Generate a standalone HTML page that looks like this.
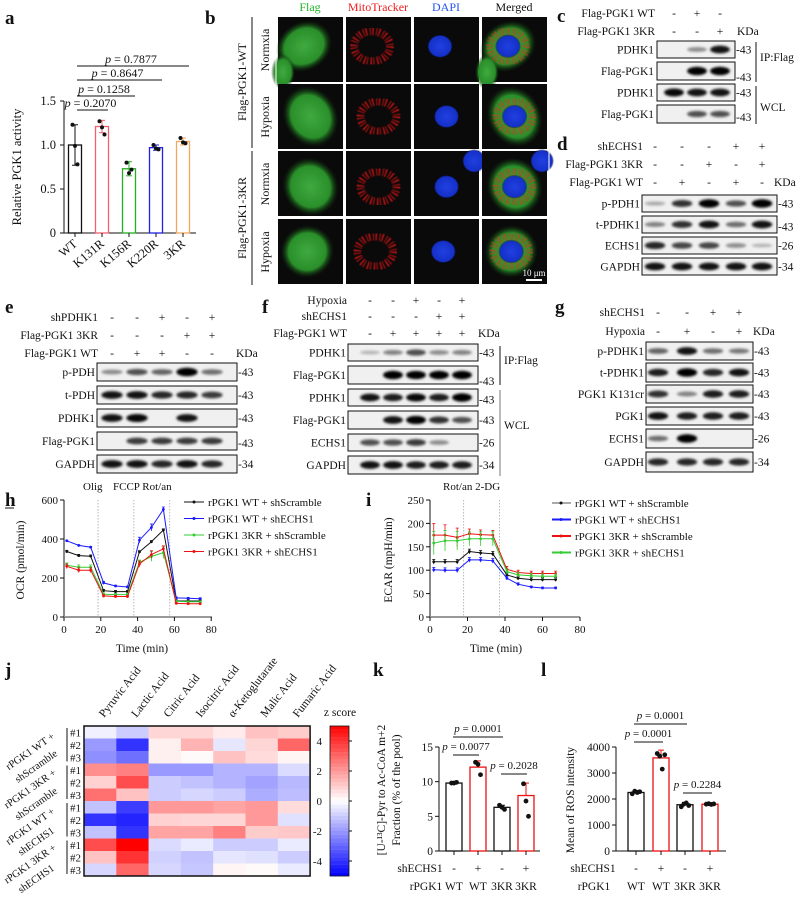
<!DOCTYPE html>
<html><head><meta charset="utf-8">
<style>
html,body{margin:0;padding:0;background:#fff;}
svg{display:block;font-family:"Liberation Serif",serif;}
</style></head>
<body>
<svg id="fig" width="798" height="902" viewBox="0 0 798 902">
<defs>
<filter id="blur1" x="-20%" y="-50%" width="140%" height="200%"><feGaussianBlur stdDeviation="1.2"/></filter>
<filter id="blur05"><feGaussianBlur stdDeviation="0.6"/></filter>
<radialGradient id="gCell" cx="50%" cy="50%" r="50%"><stop offset="0" stop-color="#3faa3f"/><stop offset="0.7" stop-color="#2a8f2a"/><stop offset="1" stop-color="#0c300c" stop-opacity="0"/></radialGradient>
<radialGradient id="bNuc" cx="50%" cy="50%" r="50%"><stop offset="0" stop-color="#2040e0"/><stop offset="0.85" stop-color="#1530c8"/><stop offset="1" stop-color="#000" stop-opacity="0"/></radialGradient>
</defs>
</svg>
<script>
// ---------- DATA ----------
const aCats=['WT','K131R','K156R','K220R','3KR'];
const aMeans=[1.0,1.21,0.73,0.97,1.04];
const aSD=[0.23,0.07,0.08,0.03,0.04];
const aPts=[[1.23,0.99,0.78],[1.27,1.2,1.12],[0.8,0.68,0.72],[1.0,0.96,0.95],[1.08,1.03,1.02]];
const aTicks=[0,0.5,1.0,1.5];
const aTickLabels=['0','0.5','1.0','1.5'];
const aPvals=['p = 0.2070','p = 0.1258','p = 0.8647','p = 0.7877'];

const hTimes=[1.5,8,14.5,21.5,28,34.5,41,47.5,54,61,67.5,74];
const hBlack=[336,315,312,135,130,130,334,386,446,82,82,82];
const hBlue=[391,367,358,175,159,154,394,459,552,98,96,94];
const hGreen=[265,255,255,117,115,115,280,310,330,80,78,78];
const hRed=[260,240,240,108,105,105,272,320,350,70,68,68];
const hTicks=[0,200,400,600];
const xTicks=[0,20,40,60,80];

const iTimes=[2,8,14.5,21,27,33.5,41,47,54,60,67];
const iBlack=[118,118,118,140,137,135,90,83,80,80,80];
const iBlue=[101,100,100,122,122,120,83,70,64,62,62];
const iRed=[175,175,170,178,176,175,102,95,93,93,93];
const iGreen=[158,163,163,167,167,167,97,90,88,87,87];
const iTicks=[0,50,100,150,200,250];

const jCols=['Pyruvic Acid','Lactic Acid','Citric Acid','Isocitric Acid','α-Ketoglutarate','Malic Acid','Fumaric Acid'];
const jRows=[
[-0.3,-1,0.8,0.8,0.4,1.2,1.0],
[-2,-4,0.3,1.5,-0.5,0.8,3],
[-2.2,-2.8,0.3,0.1,1.2,0.7,0.2],
[2.2,2.5,-2,-2,-1.5,-1.5,-0.7],
[0.9,3.5,-1,-1.2,-1.5,-1.8,-1.4],
[2.8,1.2,-1,-0.8,-1,-1.6,-1.3],
[-1.2,-3.8,2,2,1.8,2,0.7],
[-4,-4.3,0.9,0.8,0.8,2,-0.6],
[-1.2,-4,1.8,1.8,2.5,1,1.1],
[3.5,5,-0.7,-0.4,-1,-1,-0.4],
[1.2,4,-0.9,-1.2,-0.5,-0.6,-1],
[-0.8,3,-0.8,-1.1,0.2,0.1,-0.4]];
const jTicks=[4,2,0,-2,-4];

const kMeans=[9.8,12.1,6.3,8.0];
const kPts=[[9.8,9.8,9.9],[12.8,12.5,11],[6.6,6.3,6.0],[9.7,7.2,5.0]];
const kSD=[0.1,0.9,0.3,1.8];
const kTicks=[0,5,10,15];
const lMeans=[2250,3580,1780,1800];
const lPts=[[2200,2300,2250,2280],[3750,3650,3150,3700],[1700,1800,1850,1750],[1800,1820,1790,1810]];
const lSD=[80,300,90,30];
const lTicks=[0,1000,2000,3000,4000];
const shSigns=['-','+','-','+'];
const pgkLab=['WT','WT','3KR','3KR'];

// ---------- HELPERS ----------
const NS='http://www.w3.org/2000/svg';
const svg=document.getElementById('fig');
function mk(tag,attrs,name,parent){
  const e=document.createElementNS(NS,tag);
  for(const k in attrs) e.setAttribute(k,attrs[k]);
  
  
  (parent||svg).appendChild(e);return e;
}
function T(x,y,s,size,name,opt){
  opt=opt||{};
  const t=mk('text',{x:x,y:y,'font-size':size,'text-anchor':opt.anchor||'start',fill:opt.fill||'#111','font-weight':opt.bold?'bold':'normal','font-style':opt.italic?'italic':'normal',transform:opt.rot?`rotate(${opt.rot} ${x} ${y})`:''},name);
  if(s.startsWith('p = ')){
    const a=document.createElementNS(NS,'tspan');a.setAttribute('font-style','italic');a.textContent='p';t.appendChild(a);
    const b=document.createElementNS(NS,'tspan');b.textContent=s.slice(1);t.appendChild(b);
  } else t.textContent=s;
  return t;
}
function L(x1,y1,x2,y2,name,stroke,w,dash){
  return mk('line',{x1:x1,y1:y1,x2:x2,y2:y2,stroke:stroke||'#111','stroke-width':w||1,'stroke-dasharray':dash||''},name);
}
function panelLetter(x,y,s){T(x,y,s,19,'panel-label-'+s,{bold:true});}

// ---------- PANEL A ----------
panelLetter(5,24,'a');
const aY=v=>233-v*88, aX=i=>75+i*27, aCol=['#111','#f0606e','#20b020','#2020e8','#f0a860'];
L(64,101,64,233,'a-y-axis');L(64,233,196,233,'a-x-axis');
aTicks.forEach((v,i)=>{L(60,aY(v),64,aY(v),'a-y-tick');T(56,aY(v)+4,aTickLabels[i],12.5,'a-y-tick-label',{anchor:'end'});});
T(21,167,'Relative PGK1 activity',12.5,'a-y-axis-title',{anchor:'middle',rot:-90});
aCats.forEach((c,i)=>{
  const x=aX(i);
  mk('rect',{x:x-6.5,y:aY(aMeans[i]),width:13,height:233-aY(aMeans[i]),fill:'none',stroke:aCol[i],'stroke-width':1.3},'a-bar-'+c);
  L(x,aY(aMeans[i]-aSD[i]),x,aY(aMeans[i]+aSD[i]),'a-error-bar',aCol[i]);
  L(x-3,aY(aMeans[i]+aSD[i]),x+3,aY(aMeans[i]+aSD[i]),'a-error-cap',aCol[i]);
  L(x-3,aY(aMeans[i]-aSD[i]),x+3,aY(aMeans[i]-aSD[i]),'a-error-cap',aCol[i]);
  aPts[i].forEach((p,j)=>mk('circle',{cx:x+(j-1)*2.5,cy:aY(p),r:2,fill:'#111'},'a-point'));
  L(x,233,x,237,'a-x-tick');
  T(x+3,245,c,12.5,'a-x-label-'+c,{anchor:'end',rot:-40});
});
[[1,110],[2,96],[3,80],[4,66]].forEach((p,k)=>{
  const x2=aX(p[0]);L(aX(0)+2,p[1],x2+6,p[1],'a-significance-line');
  T((aX(0)+x2)/2+2,p[1]-3,aPvals[k],12,'a-p-value',{anchor:'middle'});
});

// ---------- PANEL B ----------
panelLetter(205,24,'b');
const bCx=[278,346,414,482], bRy=[17,84,151,219], bHead=['Flag','MitoTracker','DAPI','Merged'], bHc=['#22b22a','#ee1c1c','#2255ee','#111'];
bHead.forEach((h,i)=>T(bCx[i]+32,11,h,12,'b-column-header-'+h,{anchor:'middle',fill:bHc[i]}));
const cellPos=[[0.4,0.45,0.36,0.28],[0.5,0.5,0.33,0.36],[0.5,0.55,0.34,0.34],[0.45,0.5,0.33,0.3]];
bRy.forEach((y,r)=>{
  const cp=cellPos[r];
  bCx.forEach((x,c)=>{
    const g=mk('g',{},'b-micrograph');
    mk('rect',{x:x,y:y,width:65,height:65,fill:'#0a0a0a'},'micrograph-bg',g);
    const cx=x+65*cp[0],cy=y+65*cp[1];
    if(c===0||c===3){mk('ellipse',{cx:cx,cy:cy,rx:65*cp[2]*1.25,ry:65*cp[3]*1.35,fill:'url(#gCell)',transform:`rotate(-30 ${cx} ${cy})`},'green-cell',g);
      if(r===0)mk('ellipse',{cx:x+5,cy:y+55,rx:12,ry:18,fill:'url(#gCell)'},'green-cell-2',g);}
    if(c===1||c===3){mk('ellipse',{cx:cx,cy:cy,rx:18,ry:15,fill:'none',stroke:c===1?'#d81818':'#c04020','stroke-width':8,'stroke-dasharray':'1.5 2.5 1 1.5',opacity:0.85,filter:'url(#blur05)'},'mito-ring',g);}
    if(c===2||c===3){mk('ellipse',{cx:cx,cy:cy,rx:13,ry:12,fill:'url(#bNuc)'},'nucleus',g);
      if(r===2)mk('ellipse',{cx:x+60,cy:y+10,rx:12,ry:12,fill:'url(#bNuc)'},'nucleus-2',g);}
  });
});
mk('rect',{x:276,y:15,width:273,height:272,fill:'none',stroke:'#fff','stroke-width':1},'b-grid-border');
L(252,17,252,148,'b-group-bracket');L(252,151,252,285,'b-group-bracket');
T(246,82,'Flag-PGK1-WT',12,'b-group-label',{anchor:'middle',rot:-90});
T(246,218,'Flag-PGK1-3KR',12,'b-group-label',{anchor:'middle',rot:-90});
[['Normxia',50],['Hypoxia',117],['Normxia',184],['Hypoxia',252]].forEach(p=>T(269,p[1],p[0],12,'b-row-label',{anchor:'middle',rot:-90}));
L(526,280,542,280,'b-scale-bar','#fff',2);T(534,276,'10 μm',9,'b-scale-label',{anchor:'middle',fill:'#fff'});

// ---------- BLOT HELPER ----------
function blot(prefix,x0,x1,lanes,rows,labelX,markX){
  rows.forEach(r=>{
    const g=mk('g',{},prefix+'-blot-'+r.name);
    mk('rect',{x:x0,y:r.y,width:x1-x0,height:r.h,fill:'#f0f0f0',stroke:'#111','stroke-width':1},'blot-frame',g);
    lanes.forEach((lx,i)=>{const v=r.v[i];if(v>0.02){
      const w=(x1-x0)/lanes.length*0.38;
      mk('ellipse',{cx:lx,cy:r.y+r.h/2,rx:w,ry:1.8+v*2.5,fill:'#000',opacity:Math.min(1,0.2+v*0.85),filter:'url(#blur1)'},'band',g);}});
    T(labelX,r.y+r.h/2+4,r.name,11.5,prefix+'-row-label',{anchor:'end'});
    T(markX,r.y+r.h/2+4+(r.mo||0),'-'+r.kda,11.5,prefix+'-kda-marker');
  });
}
function header(prefix,rows,lanes,labelX,kdaX){
  rows.forEach(r=>{T(labelX,r.y,r.name,11.5,prefix+'-condition-label',{anchor:'end'});
    r.s.forEach((s,i)=>T(lanes[i],r.y,s,11.5,prefix+'-sign',{anchor:'middle'}));});
  T(kdaX,rows[rows.length-1].y,'KDa',11.5,prefix+'-kda-unit');
}

// ---------- PANEL C ----------
panelLetter(557,22,'c');
const cL=[674,697,720];
header('c',[{name:'Flag-PGK1 WT',y:17,s:['-','+','-']},{name:'Flag-PGK1 3KR',y:35,s:['-','-','+']}],cL,655,737);
blot('c',657,735,cL,[
 {name:'PDHK1',y:41,h:17,v:[0,0.25,0.85],kda:43},
 {name:'Flag-PGK1',y:62,h:18,v:[0,1,1],kda:43,mo:6},
 {name:'PDHK1',y:84,h:17,v:[0.9,0.85,0.85],kda:43},
 {name:'Flag-PGK1',y:105,h:18,v:[0,0.55,0.55],kda:43,mo:3}],654,736);
L(756,42,756,82,'c-ip-bracket');T(760,61,'IP:Flag',11.5,'c-ip-label');
L(756,86,756,124,'c-wcl-bracket');T(760,111,'WCL',11.5,'c-wcl-label');

// ---------- PANEL D ----------
panelLetter(557,150,'d');
const dL=[655,682,709,736,762];
header('d',[{name:'shECHS1',y:150,s:['-','-','-','+','+']},{name:'Flag-PGK1 3KR',y:168,s:['-','-','+','-','+']},{name:'Flag-PGK1 WT',y:186,s:['-','+','-','+','-']}],dL,643,774);
blot('d',642,777,dL,[
 {name:'p-PDH1',y:195,h:17,v:[0.1,0.7,1,0.55,1],kda:43},
 {name:'t-PDHK1',y:216,h:17,v:[0.3,0.7,0.85,0.4,0.85],kda:43,mo:2},
 {name:'ECHS1',y:237,h:17,v:[0.75,0.6,0.6,0.25,0.05],kda:26},
 {name:'GAPDH',y:258,h:17,v:[0.85,0.85,0.85,0.85,0.85],kda:34}],640,778);

// ---------- PANEL E ----------
panelLetter(5,313,'e');
const eL=[112,137,162,187,212];
header('e',[{name:'shPDHK1',y:321,s:['-','-','+','-','+']},{name:'Flag-PGK1 3KR',y:339,s:['-','-','-','+','+']},{name:'Flag-PGK1 WT',y:357,s:['-','+','+','-','-']}],eL,98,236);
blot('e',97,237,eL,[
 {name:'p-PDH',y:363,h:18,v:[0.25,0.55,0.45,1,0.4],kda:43},
 {name:'t-PDH',y:386,h:18,v:[0.85,0.85,0.75,0.75,0.65],kda:43},
 {name:'PDHK1',y:409,h:18,v:[0.85,0.9,0,0.85,0],kda:43},
 {name:'Flag-PGK1',y:432,h:18,v:[0,0.65,0.65,0.65,0.65],kda:43,mo:2},
 {name:'GAPDH',y:455,h:18,v:[0.85,0.85,0.75,0.85,0.75],kda:34}],95,238);

// ---------- PANEL F ----------
panelLetter(262,313,'f');
const fL=[370,393,416,439,462];
header('f',[{name:'Hypoxia',y:304,s:['-','-','+','-','+']},{name:'shECHS1',y:320,s:['-','-','-','+','+']},{name:'Flag-PGK1 WT',y:337,s:['-','+','+','+','+']}],fL,347,478);
blot('f',348,478,fL,[
 {name:'PDHK1',y:344,h:17,v:[0.05,0.3,0.55,0.25,0.3],kda:43},
 {name:'Flag-PGK1',y:366,h:18,v:[0,1,0.95,1,1],kda:43,mo:6},
 {name:'PDHK1',y:389,h:17,v:[0.85,0.8,0.9,0.8,1],kda:43,mo:2},
 {name:'Flag-PGK1',y:411,h:18,v:[0,0.85,0.95,0.7,0.55],kda:43},
 {name:'ECHS1',y:434,h:17,v:[0.55,0.55,0.65,0.25,0],kda:26},
 {name:'GAPDH',y:456,h:18,v:[0.85,0.85,0.8,0.8,0.8],kda:34}],346,479);
L(500,346,500,385,'f-ip-bracket');T(504,364,'IP:Flag',11.5,'f-ip-label');
L(500,390,500,476,'f-wcl-bracket','#777');T(504,429,'WCL',11.5,'f-wcl-label');

// ---------- PANEL G ----------
panelLetter(555,313,'g');
const gL=[658,687,713,739];
header('g',[{name:'shECHS1',y:316,s:['-','-','+','+']},{name:'Hypoxia',y:335,s:['-','+','-','+']}],gL,645,753);
blot('g',646,753,gL,[
 {name:'p-PDHK1',y:342,h:18,v:[0.45,0.85,0.4,0.35],kda:43},
 {name:'t-PDHK1',y:363,h:19,v:[0.8,1,0.75,0.85],kda:43},
 {name:'PGK1 K131cr',y:385,h:18,v:[0.7,0.3,0.8,0.8],kda:43},
 {name:'PGK1',y:407,h:18,v:[0.85,0.8,0.8,0.8],kda:43},
 {name:'ECHS1',y:429,h:19,v:[0.4,1,0,0],kda:26},
 {name:'GAPDH',y:452,h:20,v:[0.75,0.75,0.75,0.75],kda:34}],644,754);

// ---------- LINE CHART HELPER ----------
function lineChart(prefix,times,series,xf,yf,sd){
  series.forEach(s=>{
    const d=times.map((t,i)=>(i===0?'M':'L')+xf(t).toFixed(1)+','+yf(s.v[i]).toFixed(1)).join(' ');
    mk('path',{d:d,fill:'none',stroke:s.c,'stroke-width':1},prefix+'-line-'+s.n);
    times.forEach((t,i)=>{
      const e=s.e?s.e[i]:sd;
      L(xf(t),yf(s.v[i]-e),xf(t),yf(s.v[i]+e),prefix+'-error-bar',s.c,0.8);
      L(xf(t)-1.5,yf(s.v[i]+e),xf(t)+1.5,yf(s.v[i]+e),prefix+'-error-cap',s.c,0.8);
      mk('circle',{cx:xf(t),cy:yf(s.v[i]),r:1.4,fill:s.c},prefix+'-point-'+s.n);
    });
  });
}
const legNames=['rPGK1 WT  + shScramble','rPGK1 WT  + shECHS1','rPGK1 3KR + shScramble','rPGK1 3KR + shECHS1'];

// ---------- PANEL H ----------
T(5,506,'h',19,'panel-label-h',{bold:true});L(5,508,14,508,'h-underline');
const hX=t=>64+t*1.84, hY=v=>617-v*(117/600);
[18.5,38,57.5].forEach(t=>L(hX(t),500,hX(t),617,'h-injection-line','#888',0.6,'1.5 1.5'));
T(83,490,'Olig',11,'h-olig-label');T(113,490,'FCCP Rot/an',11,'h-fccp-label');
lineChart('h',hTimes,[
 {n:'wt-scramble',v:hBlack,c:'#111'},{n:'wt-echs1',v:hBlue,c:'#1a1aff',e:[3,3,3,8,4,4,15,18,12,4,4,4]},
 {n:'3kr-scramble',v:hGreen,c:'#33cc33',e:[12,12,12,6,6,6,12,25,30,4,4,4]},{n:'3kr-echs1',v:hRed,c:'#ee1111',e:[12,12,12,6,6,6,15,20,15,4,4,4]}],hX,hY,6);
L(64,500,64,617,'h-y-axis');L(64,617,212,617,'h-x-axis','#999',2);
hTicks.forEach(v=>{L(60,hY(v),64,hY(v),'h-y-tick');T(58,hY(v)+4,String(v),11,'h-y-tick-label',{anchor:'end'});});
xTicks.forEach(v=>{L(hX(v),617,hX(v),621,'h-x-tick');T(hX(v),633,String(v),11,'h-x-tick-label',{anchor:'middle'});});
T(24,560,'OCR (pmol/min)',11.5,'h-y-axis-title',{anchor:'middle',rot:-90});
T(142,652,'Time (min)',11.5,'h-x-axis-title',{anchor:'middle'});
const hLC=['#111','#1a1aff','#33cc33','#ee1111'];
legNames.forEach((n,i)=>{const y=502+i*16.5;L(184,y,204,y,'h-legend-line',hLC[i]);mk('circle',{cx:194,cy:y,r:1.5,fill:hLC[i]},'h-legend-marker');T(208,y+4,n,11,'h-legend-entry');});

// ---------- PANEL I ----------
T(366,506,'i',19,'panel-label-i',{bold:true});
const iX=t=>430+t*(150/80), iY=v=>617-v*(117/250);
[18,37].forEach(t=>L(iX(t),500,iX(t),617,'i-injection-line','#888',0.6,'1.5 1.5'));
T(443,490,'Rot/an  2-DG',11,'i-injection-label');
lineChart('i',iTimes,[
 {n:'wt-scramble',v:iBlack,c:'#111',e:[5,5,5,5,5,5,4,4,4,4,4]},{n:'wt-echs1',v:iBlue,c:'#1a1aff',e:[5,5,5,5,5,5,4,3,2,2,2]},
 {n:'3kr-scramble',v:iRed,c:'#ee1111',e:[25,22,20,10,10,10,6,5,5,5,5]},{n:'3kr-echs1',v:iGreen,c:'#33cc33',e:[25,22,20,15,15,15,6,5,5,5,5]}],iX,iY,5);
L(430,500,430,617,'i-y-axis');L(430,617,580,617,'i-x-axis','#999',2);
iTicks.forEach(v=>{L(426,iY(v),430,iY(v),'i-y-tick');T(424,iY(v)+4,String(v),11,'i-y-tick-label',{anchor:'end'});});
xTicks.forEach(v=>{L(iX(v),617,iX(v),621,'i-x-tick');T(iX(v),633,String(v),11,'i-x-tick-label',{anchor:'middle'});});
T(392,560,'ECAR (mpH/min)',11.5,'i-y-axis-title',{anchor:'middle',rot:-90});
T(496,652,'Time (min)',11.5,'i-x-axis-title',{anchor:'middle'});
const iLC=['#aaa','#1a1aff','#ee1111','#33cc33'], iDot=['#111','#1a1aff','#ee1111','#33cc33'];
legNames.forEach((n,i)=>{const y=503+i*16.5;L(552,y,571,y,'i-legend-line',iLC[i],2);mk('circle',{cx:561,cy:y,r:1.5,fill:iDot[i]},'i-legend-marker');T(575,y+4,n,11,'i-legend-entry');});

// ---------- PANEL J ----------
T(5,676,'j',19,'panel-label-j',{bold:true});
const jX0=84,jW=32.3,jY0=726,jH=12.5;
function zcol(z){z=Math.max(-5,Math.min(5,z));const f=Math.abs(z)/5;
  const a=Math.round(255*(1-f));return z>=0?`rgb(255,${a},${a})`:`rgb(${a},${a},255)`;}
jRows.forEach((row,r)=>row.forEach((z,c)=>{
  mk('rect',{x:jX0+c*jW,y:jY0+r*jH,width:jW+0.3,height:jH+0.3,fill:zcol(z)},'j-cell');
}));
mk('rect',{x:jX0,y:jY0,width:7*jW,height:12*jH,fill:'none',stroke:'#111','stroke-width':1.5},'j-heatmap-frame');
jCols.forEach((c,i)=>T(jX0+i*jW+jW/2+4,jY0-8,c,11.5,'j-column-label',{rot:-52}));
['#1','#2','#3'].forEach((s,k)=>{for(let g=0;g<4;g++)T(70,jY0+(g*3+k)*jH+jH/2+4,s,11,'j-replicate-label');});
const jG=[['rPGK1 WT +','shScramble'],['rPGK1 3KR +','shScramble'],['rPGK1 WT +','shECHS1'],['rPGK1 3KR +','shECHS1']];
jG.forEach((g,k)=>{const y0=jY0+k*3*jH;L(67,y0+2,67,y0+3*jH-2,'j-group-bracket');
  T(32,y0+28,g[0],10.5,'j-group-label',{anchor:'middle',rot:-35});T(38,y0+43,g[1],10.5,'j-group-label',{anchor:'middle',rot:-35});});
for(let k=0;k<40;k++){mk('rect',{x:330,y:726+k*3.75,width:19,height:3.9,fill:zcol(5-k*0.25-0.125)},'j-colorbar-segment');}
mk('rect',{x:330,y:726,width:19,height:150,fill:'none',stroke:'#111','stroke-width':0.8},'j-colorbar-frame');
jTicks.forEach(v=>{const y=801-v*15;L(349,y,352,y,'j-colorbar-tick');T(322,y+4,String(v),11,'j-colorbar-label',{anchor:'end'});});
T(340,716,'z score',11.5,'j-colorbar-title',{anchor:'middle'});

// ---------- BAR PANEL HELPER ----------
function barPanel(prefix,xs,means,pts,sds,yf,ticks,axX,axR){
  L(axX,yf(ticks[ticks.length-1]),axX,851,prefix+'-y-axis');L(axX,851,axR,851,prefix+'-x-axis');
  ticks.forEach(v=>{L(axX-4,yf(v),axX,yf(v),prefix+'-y-tick');T(axX-6,yf(v)+4,String(v),11.5,prefix+'-y-tick-label',{anchor:'end'});});
  xs.forEach((x,i)=>{const c=i%2?'#ee1111':'#111';
    mk('rect',{x:x-8,y:yf(means[i]),width:16,height:851-yf(means[i]),fill:'none',stroke:c,'stroke-width':1.3},prefix+'-bar');
    L(x,yf(means[i]),x,yf(means[i]+sds[i]),prefix+'-error-bar',c);L(x-3,yf(means[i]+sds[i]),x+3,yf(means[i]+sds[i]),prefix+'-error-cap',c);
    pts[i].forEach((p,j)=>mk('circle',{cx:x+(j-(pts[i].length-1)/2)*2.5,cy:yf(p),r:2.4,fill:'#111'},prefix+'-point'));
    L(x,851,x,855,prefix+'-x-tick');
    T(x,872,shSigns[i],11.5,prefix+'-shechs1-sign',{anchor:'middle'});
    T(x,890,pgkLab[i],11.5,prefix+'-rpgk1-label',{anchor:'middle'});
  });
}
// ---------- PANEL K ----------
T(373,676,'k',19,'panel-label-k',{bold:true});
const kY=v=>851-v*(104/15), kX=[454,478,502,526];
barPanel('k',kX,kMeans,kPts,kSD,kY,kTicks,439,540);
T(420,872,'shECHS1',11.5,'k-shechs1-label',{anchor:'middle'});T(426,890,'rPGK1',11.5,'k-rpgk1-label',{anchor:'middle'});
T(385,790,'[U-¹³C]-Pyr to Ac-CoA m+2',11.5,'k-y-axis-title',{anchor:'middle',rot:-90});
T(400,790,'Fraction (% of the pool)',11.5,'k-y-axis-title-2',{anchor:'middle',rot:-90});
[[0,2,737,'p = 0.0001'],[0,1,755,'p = 0.0077'],[2,3,774,'p = 0.2028']].forEach(p=>{L(kX[p[0]]-1,p[2],kX[p[1]]+1,p[2],'k-significance-line');T((kX[p[0]]+kX[p[1]])/2,p[2]-5,p[3],11,'k-p-value',{anchor:'middle'});});

// ---------- PANEL L ----------
T(541,676,'l',19,'panel-label-l',{bold:true});
const lY=v=>851-v*(104/4000), lX=[636,661,685,710];
barPanel('l',lX,lMeans,lPts,lSD,lY,lTicks,616,726);
T(593,872,'shECHS1',11.5,'l-shechs1-label',{anchor:'middle'});T(594,890,'rPGK1',11.5,'l-rpgk1-label',{anchor:'middle'});
T(574,800,'Mean of  ROS intensity',11.5,'l-y-axis-title',{anchor:'middle',rot:-90});
[[0,2,724,'p = 0.0001'],[0,1,742,'p = 0.0001'],[2,3,793,'p = 0.2284']].forEach(p=>{L(lX[p[0]]-2,p[2],lX[p[1]]+2,p[2],'l-significance-line');T((lX[p[0]]+lX[p[1]])/2,p[2]-5,p[3],11,'l-p-value',{anchor:'middle'});});
</script>
</body></html>
